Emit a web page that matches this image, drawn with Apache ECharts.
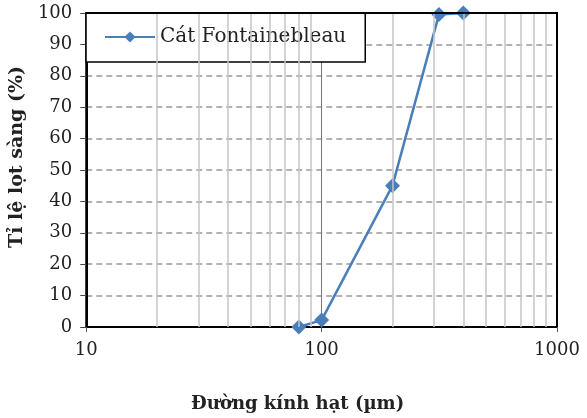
<!DOCTYPE html>
<html><head><meta charset="utf-8">
<script src="https://cdn.jsdelivr.net/npm/echarts@6/dist/echarts.min.js"></script>
<style>html,body{margin:0;padding:0;background:#fff}#c{width:587px;height:418px}</style>
</head><body><div id="c"></div>
<script>
const seriesName = 'Cát Fontainebleau';
const diameters = [80, 100, 200, 315, 400];
const passing = [0, 2.2, 45, 99.5, 100];
const yTicks = [0, 10, 20, 30, 40, 50, 60, 70, 80, 90, 100];
const minorX = [20, 30, 40, 50, 60, 70, 80, 90, 200, 300, 400, 500, 600, 700, 800, 900];
const xTitle = 'Đường kính hạt (µm)';
const yTitle = 'Tỉ lệ lọt sàng (%)';

const FONT = '"DejaVu Serif", "Liberation Serif", serif';
const chart = echarts.init(document.getElementById('c'), null, {renderer: 'canvas'});
chart.setOption({
  animation: false,
  grid: {left: 86, right: 30, top: 13, bottom: 91, show: true, borderColor: '#000', borderWidth: 2, backgroundColor: 'transparent'},
  legend: {
    left: 86, top: 13, orient: 'horizontal',
    padding: [14, 19, 15, 18],
    backgroundColor: '#fff', borderColor: '#000', borderWidth: 1.5, borderRadius: 0,
    itemWidth: 50, itemHeight: 14, itemGap: 6,
    textStyle: {fontFamily: FONT, fontSize: 20, color: '#222'},
    data: [seriesName]
  },
  xAxis: {
    type: 'log', logBase: 10, min: 10, max: 1000,
    axisLine: {show: true, lineStyle: {color: '#000', width: 2}},
    axisTick: {show: true, length: 5, lineStyle: {color: '#555'}},
    axisLabel: {fontFamily: FONT, fontSize: 18, color: '#222', margin: 14, formatter: v => String(v)},
    splitLine: {show: true, lineStyle: {color: '#777', width: 1}},
    minorTick: {show: false},
    name: xTitle, nameLocation: 'middle', nameGap: 68,
    nameTextStyle: {fontFamily: FONT, fontSize: 18, fontWeight: 'bold', color: '#222', padding: [0, 48, 0, 0]}
  },
  yAxis: {
    type: 'value', min: 0, max: 100, interval: 10,
    axisLine: {show: true, lineStyle: {color: '#000', width: 2}},
    axisTick: {show: true, length: 6, lineStyle: {color: '#444'}},
    axisLabel: {fontFamily: FONT, fontSize: 18, color: '#222', margin: 14,
      formatter: v => yTicks.includes(v) ? String(v) : ''},
    splitLine: {show: true, lineStyle: {color: '#999', width: 1.5, type: [6, 4]}},
    name: yTitle, nameLocation: 'middle', nameGap: 46,
    nameTextStyle: {fontFamily: FONT, fontSize: 19, fontWeight: 'bold', color: '#222', padding: [0, 0, 0, 26]}
  },
  series: [
    {
      type: 'line', data: [], silent: true, z: 1,
      markLine: {
        silent: true, symbol: 'none', animation: false,
        label: {show: false},
        lineStyle: {color: '#c4c4c4', width: 1.5, type: 'solid'},
        data: minorX.map(v => ({xAxis: v}))
      }
    },
    {
      type: 'line', data: [], silent: true, z: 2,
      markLine: {
        silent: true, symbol: 'none', animation: false,
        label: {show: false},
        lineStyle: {color: '#000', width: 2, type: 'solid'},
        data: [{xAxis: 1000}, {yAxis: 100}]
      }
    },
    {
      name: seriesName, type: 'line', z: 3,
      data: diameters.map((d, i) => [d, passing[i]]),
      symbol: 'diamond', symbolSize: 15,
      lineStyle: {color: '#4a7ebb', width: 2.5},
      itemStyle: {color: '#4a7ebb'}
    }
  ]
});
</script></body></html>
